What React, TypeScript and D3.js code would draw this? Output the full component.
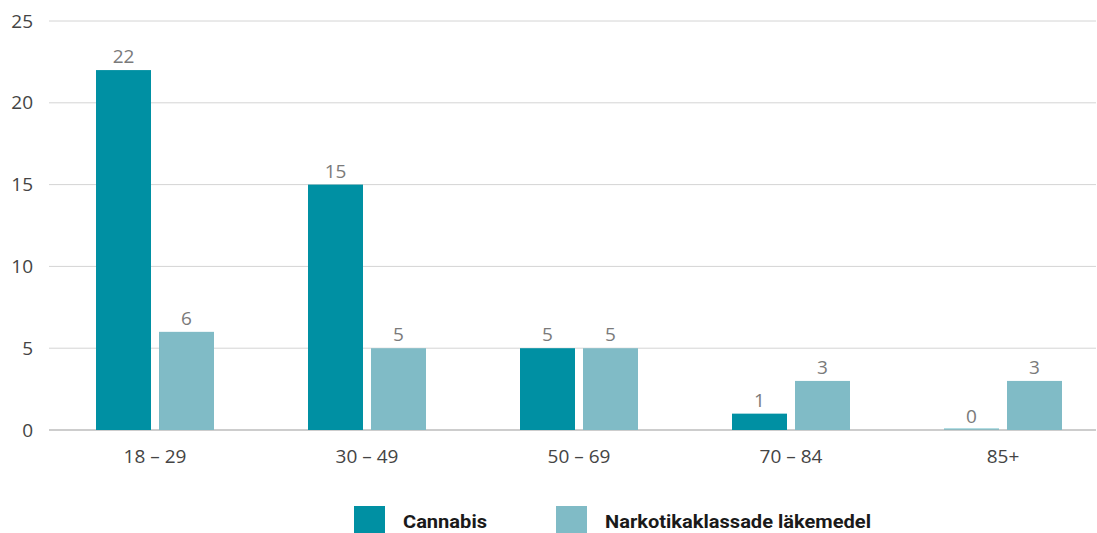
import * as d3 from "d3";
import { useEffect, useRef } from "react";

const categories = ["18 – 29", "30 – 49", "50 – 69", "70 – 84", "85+"];
const cannabis = [22, 15, 5, 1, 0];
const narkotika = [6, 5, 5, 3, 3];
const seriesNames = ["Cannabis", "Narkotikaklassade läkemedel"];
const yTicks = [0, 5, 10, 15, 20, 25];

const colors = ["#0090a3", "#80bbc6"];

function App() {
  const ref = useRef(null);
  const width = 1097;
  const height = 533;

  useEffect(() => {
    const svg = d3.select(ref.current);
    svg.selectAll("*").remove();

    const x = d3.scaleBand<string>().domain(categories).range([49, 1109]);
    // two bars of 55px with an 8px gap, centred in each 212px band
    const inner = d3.scaleBand<number>().domain([0, 1]).range([47, 165]).paddingInner(8 / 63);
    const y = d3.scaleLinear().domain([0, 25]).range([430, 21]);

    const font = "'Open Sans', 'Noto Sans', sans-serif";

    // grid
    const grid = svg.append("g");
    yTicks.forEach((t) => {
      grid
        .append("line")
        .attr("x1", 49)
        .attr("x2", 1096)
        .attr("y1", y(t))
        .attr("y2", y(t))
        .attr("stroke", t === 0 ? "#bcbcbc" : "#d4d4d4")
        .attr("stroke-width", t === 0 ? 1.5 : 1);
      grid
        .append("text")
        .attr("x", 33)
        .attr("y", y(t))
        .attr("dy", "0.35em")
        .attr("text-anchor", "end")
        .attr("fill", "#444")
        .style("font", `19px ${font}`)
        .text(t);
    });

    const data = [cannabis, narkotika];
    data.forEach((vals, si) => {
      const g = svg.append("g");
      vals.forEach((v, i) => {
        const bx = x(categories[i])! + inner(si)!;
        const top = y(v);
        g.append("rect")
          .attr("x", bx)
          .attr("y", v === 0 ? y(0) - 1.5 : top)
          .attr("width", inner.bandwidth())
          .attr("height", Math.max(1, y(0) - top))
          .attr("fill", colors[si])
          .attr("opacity", v === 0 ? 0.6 : 1);
        g.append("text")
          .attr("x", bx + inner.bandwidth() / 2)
          .attr("y", top - 7)
          .attr("text-anchor", "middle")
          .attr("fill", "#7a7a7a")
          .style("font", `19px ${font}`)
          .text(v);
      });
    });

    // x labels
    categories.forEach((c) => {
      svg
        .append("text")
        .attr("x", x(c)! + x.bandwidth() / 2)
        .attr("y", 463)
        .attr("text-anchor", "middle")
        .attr("fill", "#444")
        .style("font", `19px ${font}`)
        .text(c);
    });

    // legend
    const legendX = [354, 556];
    const legendW = [84, 266];
    seriesNames.forEach((name, i) => {
      svg
        .append("rect")
        .attr("x", legendX[i])
        .attr("y", 506)
        .attr("width", 31)
        .attr("height", 27)
        .attr("fill", colors[i]);
      svg
        .append("text")
        .attr("x", legendX[i] + 49)
        .attr("y", 528)
        .attr("fill", "#1a1a1a")
        .attr("textLength", legendW[i])
        .attr("lengthAdjust", "spacingAndGlyphs")
        .style("font", `bold 18px 'Roboto', sans-serif`)
        .text(name);
    });
  });

  return (
    <svg
      ref={ref}
      width={width}
      height={height}
      style={{ position: "absolute", left: 0, top: 0, background: "#fff" }}
    />
  );
}

export default App;
